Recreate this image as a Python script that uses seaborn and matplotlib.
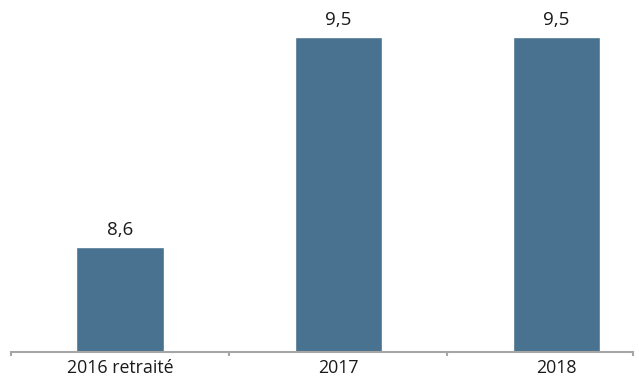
import matplotlib
matplotlib.use("Agg")
import matplotlib.pyplot as plt
import seaborn as sns

# data
categories = ["2016 retraité", "2017", "2018"]
values = [8.6, 9.5, 9.5]
value_labels = ["8,6", "9,5", "9,5"]

BAR_COLOR = "#48728f"
AXIS_COLOR = "#a6a6a6"

sns.set_style("white")
plt.rcParams["font.family"] = ["Open Sans", "DejaVu Sans"]

fig = plt.figure(figsize=(6.39, 3.84), dpi=100)
ax = fig.add_axes([11 / 639, 1 - 352 / 384, 622 / 639, 352 / 384])

sns.barplot(x=categories, y=values, color=BAR_COLOR, width=0.4,
            saturation=1, ax=ax)

ax.set_ylim(8.15, 9.66)
ax.set_xlim(-0.5, 2.35)

for i, (v, lab) in enumerate(zip(values, value_labels)):
    ax.annotate(lab, (i, v), xytext=(0, 6), textcoords="offset points",
                ha="center", va="bottom", fontsize=13.5, color="#1a1a1a")

# axes styling
for side in ["top", "right", "left"]:
    ax.spines[side].set_visible(False)
ax.spines["bottom"].set_color(AXIS_COLOR)
ax.spines["bottom"].set_linewidth(1.5)
ax.set_yticks([])
ax.tick_params(axis="x", which="major", length=0, labelsize=12.8,
               labelcolor="#1a1a1a", pad=5)
ax.set_xticks([-0.5, 0.5, 1.5, 2.35], minor=True)
ax.tick_params(axis="x", which="minor", bottom=True, length=3, width=1.5,
               color=AXIS_COLOR, direction="out")
ax.set_xlabel("")
ax.set_ylabel("")

fig.savefig("out.png", dpi=100)
